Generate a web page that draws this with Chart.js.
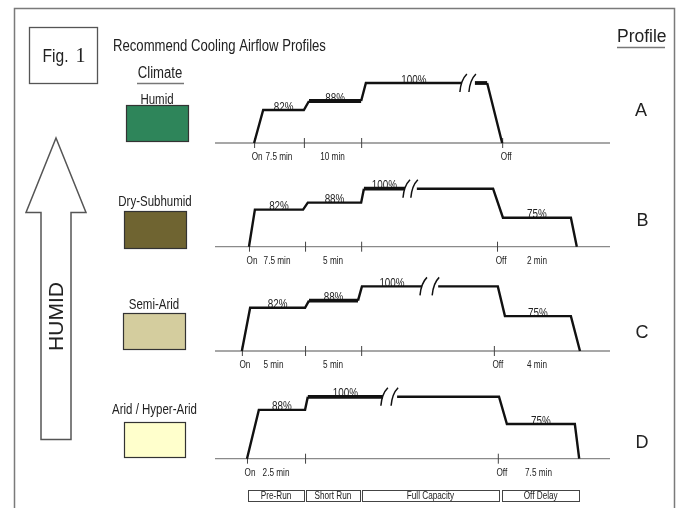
<!DOCTYPE html>
<html>
<head>
<meta charset="utf-8">
<script src="https://cdn.jsdelivr.net/npm/chart.js@4.4.1/dist/chart.umd.min.js"></script>
<style>
  html, body { margin: 0; padding: 0; background: #fff; }
  #wrap { position: relative; width: 678px; height: 508px; background: #fff; }
</style>
</head>
<body>
<div id="wrap"><canvas id="fig"></canvas></div>
<script>
// climates / profiles, top to bottom
const climates = ['Humid', 'Dry-Subhumid', 'Semi-Arid', 'Arid / Hyper-Arid'];
const climateColors = ['#2e855a', '#6f6431', '#d4cd9e', '#ffffcc'];
const profiles = ['A', 'B', 'C', 'D'];

// airflow profiles. time is the schematic time axis (0-100), flow in %
// 0 = fan off, null = axis break
const timeA = [9.9, 12.2, 22.5, 23.8, 37.0, 38.2, 62.5, 64.2, 65.8, 68.9, 72.7];
const flowA = [0, 82, 82, 88, 88, 100, 100, null, 100, 100, 0];
const timeB = [8.6, 10.1, 22.3, 23.5, 37.0, 37.7, 48.1, 49.6, 51.1, 70.4, 72.9, 90.1, 91.6];
const flowB = [0, 82, 82, 88, 88, 100, 100, null, 100, 100, 75, 75, 0];
const timeC = [6.8, 8.9, 22.8, 23.8, 36.2, 37.2, 52.4, 54.4, 56.5, 71.6, 73.4, 90.1, 92.4];
const flowC = [0, 82, 82, 88, 88, 100, 100, null, 100, 100, 75, 75, 0];
const timeD = [8.1, 11.1, 22.8, 23.5, 42.5, 44.3, 46.1, 71.9, 73.9, 91.1, 92.2];
const flowD = [0, 88, 88, 100, 100, null, 100, 100, 75, 75, 0];

// tick marks on each time axis: On, end of each step, Off
const ticksA = [9.9, 22.5, 37.0, 72.7];
const ticksB = [8.6, 22.8, 37.0, 71.4];
const ticksC = [6.8, 22.8, 37.0, 70.6];
const ticksD = [8.1, 22.8, 71.6];

// step durations (between ticks) and off delay
const stepsA = ['7.5 min', '10 min'];
const stepsB = ['7.5 min', '5 min'];
const stepsC = ['5 min', '5 min'];
const stepsD = ['2.5 min'];
const offDelay = ['', '2 min', '4 min', '7.5 min'];

// phase boxes under the last profile
const phases = ['Pre-Run', 'Short Run', 'Full Capacity', 'Off Delay'];
const phaseStart = [8.4, 23.0, 37.2, 72.7];
const phaseEnd = [22.5, 36.7, 71.9, 92.2];

// ---- layout (not data) ----
const W = 678, H = 508;
const panelBase = [143, 246.7, 351, 458.7];   // pixel row of each baseline
const panelFloor = [60, 50, 45.7, 43.2];      // % value sitting on the baseline
const panelScale = [1.5, 1.16, 1.19, 1.09];   // px per %
const thick = [[3, 8], [5], [3], [3]];        // heavier segments in the drawing

const series = [[timeA, flowA], [timeB, flowB], [timeC, flowC], [timeD, flowD]];
const ticks = [ticksA, ticksB, ticksC, ticksD];
const steps = [stepsA, stepsB, stepsC, stepsD];

const mctx = document.createElement('canvas').getContext('2d');
function hasFont(name) {
  mctx.font = '20px monospace';
  const a = mctx.measureText('Recommend Cooling').width;
  mctx.font = '20px "' + name + '", monospace';
  return mctx.measureText('Recommend Cooling').width !== a;
}
const NARROW = hasFont('Liberation Sans Narrow');

function label(ctx, s, x, y, o) {
  o = o || {};
  const size = o.size || 12;
  ctx.save();
  ctx.fillStyle = o.color || '#222';
  ctx.textAlign = o.align || 'center';
  ctx.textBaseline = o.base || 'middle';
  ctx.translate(x, y);
  if (o.narrow && !NARROW) ctx.scale(0.82, 1);
  if (o.rotate) ctx.rotate(o.rotate);
  let fam = o.family || '"Liberation Sans", Arial, sans-serif';
  if (o.narrow && NARROW) fam = '"Liberation Sans Narrow", "Liberation Sans", Arial, sans-serif';
  ctx.font = size + 'px ' + fam;
  ctx.fillText(s, 0, 0);
  ctx.restore();
}

function line(ctx, pts, color, width) {
  ctx.save();
  ctx.strokeStyle = color;
  ctx.lineWidth = width;
  ctx.beginPath();
  pts.forEach((p, i) => i ? ctx.lineTo(p[0], p[1]) : ctx.moveTo(p[0], p[1]));
  ctx.stroke();
  ctx.restore();
}

const yScales = {};
profiles.forEach((p, k) => {
  const max = panelFloor[k] + panelBase[k] / panelScale[k];
  yScales['y' + p] = { type: 'linear', display: false, max: max, min: max - H / panelScale[k] };
});

const datasets = series.map(([t, f], k) => ({
  label: 'Profile ' + profiles[k],
  data: t.map((x, i) => ({ x: x, y: f[i] === null ? null : (f[i] === 0 ? panelFloor[k] : f[i]) })),
  yAxisID: 'y' + profiles[k],
  borderColor: '#111',
  borderWidth: 2.4,
  pointRadius: 0,
  tension: 0,
  spanGaps: false,
  clip: false,
  segment: { borderWidth: c => thick[k].includes(c.p0DataIndex) ? 3.8 : 2.4 }
}));

const axesPlugin = {
  id: 'axes',
  beforeDatasetsDraw(chart) {
    const ctx = chart.ctx, xs = chart.scales.x;
    const px = v => xs.getPixelForValue(v);
    profiles.forEach((p, k) => {
      const ys = chart.scales['y' + p];
      const base = ys.getPixelForValue(panelFloor[k]);
      const [t, f] = series[k];
      // baseline
      line(ctx, [[px(0), base], [px(100), base]], '#8a8a8a', 1.3);
      ticks[k].forEach(v => line(ctx, [[px(v) + 0.5, base - 5], [px(v) + 0.5, base + 5]], '#444', 1));
      // time labels
      const tk = ticks[k], ly = base + 14.5;
      label(ctx, 'On', px(tk[0]) + 3, ly, { size: 10, narrow: true });
      steps[k].forEach((s, i) => label(ctx, s, (px(tk[i]) + px(tk[i + 1])) / 2, ly, { size: 10, narrow: true }));
      const off = tk[tk.length - 1];
      label(ctx, 'Off', px(off) + 4, ly, { size: 10, narrow: true });
      if (offDelay[k]) label(ctx, offDelay[k], (px(off) + px(t[t.length - 1])) / 2, ly, { size: 10, narrow: true });
      // level labels on the first flat run of each level
      const done = {};
      for (let i = 0; i < f.length - 1; i++) {
        if (f[i] && f[i] === f[i + 1] && !done[f[i]]) {
          done[f[i]] = true;
          label(ctx, f[i] + '%', (px(t[i]) + px(t[i + 1])) / 2, ys.getPixelForValue(f[i]) + 0.5,
            { size: 12, narrow: true, base: 'alphabetic' });
        }
      }
    });
  },
  afterDatasetsDraw(chart) {
    const ctx = chart.ctx, xs = chart.scales.x;
    const px = v => xs.getPixelForValue(v);
    profiles.forEach((p, k) => {
      const ys = chart.scales['y' + p];
      const [t, f] = series[k];
      const g = f.indexOf(null);
      if (g < 0) return;
      const y = ys.getPixelForValue(f[g - 1]);
      [px(t[g - 1]) + 2, px(t[g + 1]) - 2].forEach(x => {
        ctx.save();
        ctx.strokeStyle = '#111';
        ctx.lineWidth = 1.5;
        ctx.beginPath();
        ctx.moveTo(x - 4, y + 9);
        ctx.quadraticCurveTo(x - 3, y - 3, x + 3, y - 9);
        ctx.stroke();
        ctx.restore();
      });
    });
    // phase boxes
    const bTop = 490, bBot = 501;
    phases.forEach((s, i) => {
      const x0 = px(phaseStart[i]), x1 = px(phaseEnd[i]);
      ctx.save();
      ctx.strokeStyle = '#444';
      ctx.lineWidth = 1;
      ctx.strokeRect(Math.round(x0) + 0.5, bTop + 0.5, Math.round(x1 - x0), bBot - bTop);
      ctx.restore();
      label(ctx, s, (x0 + x1) / 2, (bTop + bBot) / 2 + 0.5, { size: 10, narrow: true });
    });
  },
  afterDraw(chart) {
    const ctx = chart.ctx;
    // frame
    line(ctx, [[14.5, H], [14.5, 8.5], [674.5, 8.5], [674.5, H]], '#7a7a7a', 1.5);
    // Fig. 1 box
    ctx.save();
    ctx.strokeStyle = '#555';
    ctx.lineWidth = 1.3;
    ctx.strokeRect(29.5, 27.5, 68, 56);
    ctx.restore();
    label(ctx, 'Fig.', 42.5, 61.5, { size: 19, narrow: true, align: 'left', base: 'alphabetic' });
    label(ctx, '1', 75.5, 61.5, { size: 20, align: 'left', base: 'alphabetic', family: '"Liberation Serif", serif' });
    // title
    label(ctx, 'Recommend Cooling Airflow Profiles', 113, 51, { size: 16, narrow: true, align: 'left', base: 'alphabetic' });
    label(ctx, 'Climate', 160, 78, { size: 16, narrow: true, base: 'alphabetic' });
    line(ctx, [[137, 83.5], [184, 83.5]], '#777', 1.5);
    label(ctx, 'Profile', 617, 42, { size: 17.5, align: 'left', base: 'alphabetic' });
    line(ctx, [[617, 47.5], [665, 47.5]], '#777', 1.5);
    // climate swatches
    const sw = [[126, 105, 62, 36, 100], [124, 211, 62, 37, 201.7], [123, 313, 62, 36, 305], [124, 422, 61, 35, 410]];
    climates.forEach((c, i) => {
      const [x, y, w, h, ly] = sw[i];
      ctx.save();
      ctx.fillStyle = climateColors[i];
      ctx.fillRect(x, y, w, h);
      ctx.strokeStyle = '#333';
      ctx.lineWidth = 1.2;
      ctx.strokeRect(x + 0.5, y + 0.5, w, h);
      ctx.restore();
      label(ctx, c, x + w / 2, ly, { size: 14, narrow: true });
    });
    // profile letters
    const lx = [641, 642.5, 642, 642];
    profiles.forEach((p, k) => label(ctx, p, lx[k], [111.5, 221, 333, 443][k], { size: 18 }));
    // HUMID arrow
    ctx.save();
    ctx.fillStyle = '#fff';
    ctx.strokeStyle = '#555';
    ctx.lineWidth = 1.5;
    ctx.beginPath();
    ctx.moveTo(56, 138);
    ctx.lineTo(86, 212.5);
    ctx.lineTo(71, 212.5);
    ctx.lineTo(71, 439.5);
    ctx.lineTo(41, 439.5);
    ctx.lineTo(41, 212.5);
    ctx.lineTo(26, 212.5);
    ctx.closePath();
    ctx.fill();
    ctx.stroke();
    ctx.restore();
    label(ctx, 'HUMID', 57, 316.5, { size: 21, rotate: -Math.PI / 2 });
  }
};

new Chart(document.getElementById('fig'), {
  type: 'line',
  data: { datasets: datasets },
  options: {
    responsive: true,
    maintainAspectRatio: false,
    animation: false,
    events: [],
    layout: { padding: { left: 215, right: W - 610, top: 0, bottom: 0 } },
    scales: Object.assign({ x: { type: 'linear', display: false, min: 0, max: 100 } }, yScales),
    plugins: { legend: { display: false }, tooltip: { enabled: false } }
  },
  plugins: [axesPlugin]
});
</script>
</body>
</html>
